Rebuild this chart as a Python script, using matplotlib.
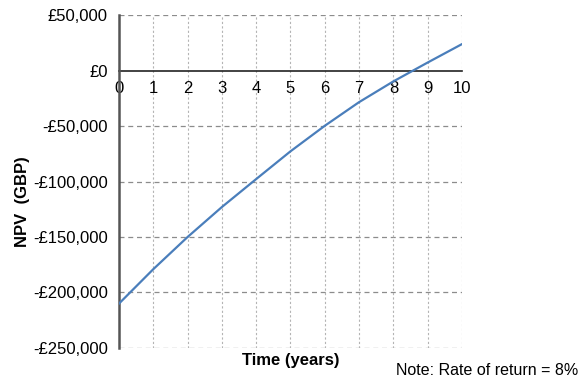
import numpy as np
import matplotlib.pyplot as plt
from matplotlib.ticker import FuncFormatter

plt.rcParams['font.family'] = ['Liberation Sans', 'DejaVu Sans']

# === Data ===
years = [0, 1, 2, 3, 4, 5, 6, 7, 8, 9, 10]
npv = [-210000, -179000, -150000, -123000, -97800, -72800,
       -49800, -28500, -9800, 7200, 23800]
y_ticks = [50000, 0, -50000, -100000, -150000, -200000, -250000]


def gbp(v, pos=None):
    if v == 0:
        return '£0'
    sign = '-' if v < 0 else ''
    return f'{sign}£{abs(v):,.0f}'


fig = plt.figure(figsize=(5.85, 3.83), dpi=100)
ax = fig.add_axes([0.2034, 0.0914, 0.5863, 0.8694])

ax.plot(years, npv, color='#4a7ebb', linewidth=1.6, zorder=3)

ax.set_xlim(0, 10)
ax.set_ylim(-250000, 50000)
ax.set_xticks(years)
ax.set_yticks(y_ticks)
ax.yaxis.set_major_formatter(FuncFormatter(gbp))

# gridlines: horizontal darker dashes, vertical light fine dashes
for v in y_ticks:
    if v != 0:
        ax.axhline(v, color='#8c8c8c', linestyle=(0, (4, 3)), linewidth=0.9, zorder=1)
for x in years[1:]:
    ax.axvline(x, color='#b4b4b4', linestyle=(0, (2, 2)), linewidth=0.8, zorder=1)

# axes
for s in ['top', 'right']:
    ax.spines[s].set_visible(False)
ax.spines['left'].set_color('#555555')
ax.spines['left'].set_linewidth(1.8)
ax.spines['bottom'].set_position(('data', 0))
ax.spines['bottom'].set_color('#222222')
ax.spines['bottom'].set_linewidth(1.2)
ax.spines['bottom'].set_zorder(2)

ax.tick_params(axis='both', length=0, labelsize=12)
ax.tick_params(axis='x', pad=7.5)
ax.tick_params(axis='y', pad=8)

fig.text(0.038, 0.473, 'NPV  (GBP)', rotation=90, ha='center', va='center',
         fontsize=12, fontweight='bold')
fig.text(0.497, 0.06, 'Time (years)', ha='center', va='center',
         fontsize=12, fontweight='bold')
fig.text(0.988, 0.033, 'Note: Rate of return = 8%', ha='right', va='center',
         fontsize=11.5)

fig.savefig('out.png', dpi=100)
